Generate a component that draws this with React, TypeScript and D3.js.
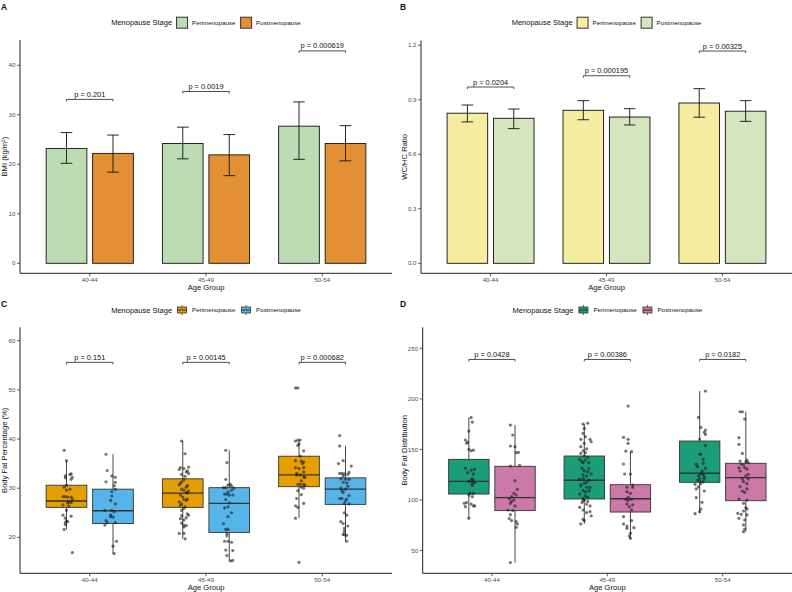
import React, { useEffect, useRef } from 'react';
import * as d3 from 'd3';

const ageGroups = ['40-44', '45-49', '50-54'];
const stages = ['Perimenopause', 'Postmenopause'];

// A: BMI, mean bar with lower / upper error limits
const bmiPeriMean = [23.2, 24.2, 27.7];
const bmiPostMean = [22.2, 21.9, 24.2];
const bmiPeriErr = [[20.2, 26.4], [21.1, 27.5], [21.0, 32.6]];
const bmiPostErr = [[18.4, 25.9], [17.7, 26.0], [20.7, 27.8]];
const bmiBracket = [33.1, 34.7, 42.9];
const bmiPValues = ['0.201', '0.0019', '0.000619'];
const bmiTicks = [0, 10, 20, 30, 40];

// B: waist / hip ratio
const whrPeriMean = [0.826, 0.842, 0.882];
const whrPostMean = [0.798, 0.805, 0.837];
const whrPeriErr = [[0.778, 0.871], [0.790, 0.895], [0.804, 0.961]];
const whrPostErr = [[0.741, 0.849], [0.761, 0.851], [0.781, 0.895]];
const whrBracket = [0.970, 1.032, 1.168];
const whrPValues = ['0.0204', '0.000195', '0.00325'];
const whrTicks = [0, 0.3, 0.6, 0.9, 1.2];

// C: body fat %, box stats [lower whisker, Q1, median, Q3, upper whisker]
const fatPeriBox = [[21.6, 26.1, 27.4, 30.6, 35.6], [19.7, 26.1, 29.0, 31.9, 39.6], [23.9, 30.3, 32.7, 36.5, 39.8]];
const fatPostBox = [[16.7, 22.8, 25.4, 29.8, 36.9], [15.2, 21.0, 26.9, 30.1, 37.7], [19.2, 26.7, 29.8, 32.1, 38.6]];
const fatBracket = [55.6, 55.6, 55.6];
const fatPValues = ['0.151', '0.00145', '0.000682'];
const fatTicks = [20, 30, 40, 50, 60];

// individual observations: [value, jitter]
const fatPeri40 = [[37.7,-0.02],[35.6,0.00],[32.5,-0.01],[32.1,-0.01],[32.8,0.03],[32.9,0.04],[32.2,0.05],[31.8,0.04],[30.6,0.00],[30.2,-0.02],[29.6,0.00],[29.8,0.03],[28.3,-0.03],[28.3,-0.01],[28.2,0.01],[28.2,0.04],[27.8,0.05],[27.2,0.02],[27.0,0.01],[27.1,0.04],[26.6,-0.03],[26.4,0.02],[25.5,0.00],[24.5,-0.03],[24.3,0.04],[23.9,-0.01],[23.3,0.00],[23.2,0.01],[23.0,-0.01],[22.6,-0.01],[21.6,-0.02],[16.9,0.05]];
const fatPost40 = [[36.9,-0.06],[33.6,-0.05],[32.5,-0.01],[32.2,0.02],[31.3,-0.06],[31.2,0.02],[30.5,0.01],[29.8,0.02],[29.3,-0.01],[28.4,-0.01],[27.5,-0.02],[26.8,0.02],[25.5,-0.07],[25.5,-0.01],[25.2,0.01],[24.5,-0.02],[24.2,-0.02],[24.1,0.00],[23.4,-0.06],[23.0,-0.05],[23.0,0.02],[22.5,-0.07],[19.2,0.03],[18.2,0.00],[16.7,0.01]];
const fatPeri45 = [[39.6,-0.01],[37.0,0.02],[34.2,-0.02],[34.0,0.01],[34.3,0.05],[33.3,0.03],[32.8,-0.01],[33.0,0.05],[31.3,-0.01],[31.7,0.01],[30.7,-0.03],[30.5,0.04],[29.6,0.01],[29.1,0.03],[29.0,0.04],[28.6,-0.02],[27.7,0.01],[27.2,-0.03],[27.8,0.04],[26.8,-0.01],[26.2,0.02],[25.5,-0.01],[24.5,0.05],[24.4,-0.01],[24.0,0.03],[23.5,0.01],[22.9,-0.01],[22.5,0.01],[22.4,0.03],[20.8,-0.03],[20.8,0.01],[19.7,0.02],[33.8,-0.03],[33.5,0.04],[32.4,0.02],[31.0,-0.02],[30.2,0.03],[29.8,-0.01],[29.4,0.05],[28.2,0.00],[27.5,0.03],[26.5,-0.02],[25.9,0.01],[24.8,0.04],[23.8,-0.02],[22.1,0.01]];
const fatPost45 = [[37.7,-0.03],[35.2,-0.02],[31.8,-0.03],[30.6,-0.01],[30.1,-0.05],[30.1,-0.03],[30.8,0.01],[30.0,0.04],[29.6,0.02],[28.8,-0.02],[28.8,-0.04],[28.6,0.00],[27.7,-0.03],[26.2,-0.01],[26.0,-0.04],[28.6,0.03],[24.2,-0.01],[22.8,-0.05],[21.6,-0.03],[21.6,-0.01],[20.8,-0.02],[19.2,-0.04],[19.2,-0.01],[19.0,0.02],[17.4,-0.03],[17.3,0.03],[16.3,-0.02],[15.2,0.01],[15.3,0.03],[30.4,0.02],[29.2,-0.01],[27.0,0.00],[25.0,0.02],[20.3,-0.02]];
const fatPeri50 = [[50.4,-0.03],[50.4,-0.01],[39.6,-0.03],[39.8,-0.01],[39.8,0.01],[39.0,0.00],[38.7,-0.01],[37.6,0.04],[36.5,0.01],[35.6,-0.03],[35.5,0.02],[35.3,0.04],[34.2,-0.03],[34.2,0.04],[34.0,0.00],[33.3,0.04],[32.7,-0.02],[32.7,0.01],[32.3,0.04],[32.2,0.05],[30.8,-0.01],[30.8,0.01],[30.8,0.04],[30.6,0.05],[30.2,0.02],[30.0,0.04],[27.9,-0.02],[26.9,0.04],[26.4,-0.03],[26.1,-0.01],[23.9,-0.03],[14.9,0.00],[31.5,0.02],[33.0,-0.02],[35.0,0.03],[29.5,-0.01],[28.7,0.02]];
const fatPost50 = [[40.7,-0.05],[38.6,-0.05],[35.6,-0.02],[35.0,-0.06],[34.5,0.05],[33.0,-0.05],[33.0,-0.03],[32.9,-0.01],[32.8,0.02],[31.9,-0.04],[31.8,0.00],[31.8,0.03],[31.2,-0.02],[31.1,0.01],[30.0,-0.04],[29.8,0.00],[29.1,-0.02],[27.9,-0.05],[27.9,-0.03],[27.8,0.01],[26.9,-0.01],[26.8,0.03],[25.0,-0.01],[24.5,0.01],[23.2,-0.04],[22.8,-0.02],[21.8,-0.01],[20.5,-0.01],[20.4,0.01],[20.6,-0.02],[19.2,0.01],[33.2,0.03],[32.5,-0.02],[30.4,0.02],[29.5,-0.03],[28.5,0.03],[27.4,0.00],[22.3,0.02],[21.2,-0.01]];

// D: body fat distribution
const distPeriBox = [[81.9, 105.9, 118.4, 140.2, 181.7], [76.3, 101.0, 119.6, 143.5, 175.1], [86.8, 117.5, 126.4, 158.3, 207.7]];
const distPostBox = [[38.1, 89.5, 102.3, 133.3, 174.1], [62.1, 88.1, 101.3, 115.1, 147.8], [68.7, 99.3, 122.1, 136.3, 187.3]];
const distBracket = [239, 239, 239];
const distPValues = ['0.0428', '0.00386', '0.0182'];
const distTicks = [50, 100, 150, 200, 250];

const distPeri40 = [[181.7,0.02],[177.1,0.03],[168.2,0.00],[159.3,-0.03],[157.3,-0.01],[156.0,-0.02],[150.1,0.00],[148.7,0.02],[149.4,0.04],[131.3,-0.03],[129.6,0.02],[130.3,0.05],[127.0,-0.01],[125.7,0.04],[121.1,0.03],[119.8,0.02],[119.1,0.04],[118.4,0.00],[116.5,0.03],[117.1,0.05],[114.5,0.03],[106.6,0.01],[104.9,0.00],[106.6,0.04],[103.3,0.03],[97.4,-0.02],[96.7,-0.04],[96.0,0.02],[94.1,0.05],[93.4,-0.03],[94.1,0.04],[81.9,0.00]];
const distPost40 = [[174.1,-0.04],[164.2,-0.02],[153.4,-0.04],[152.7,0.00],[146.8,0.01],[147.1,0.03],[133.6,-0.04],[134.3,0.04],[119.1,0.00],[110.6,0.02],[106.6,-0.01],[104.9,0.01],[103.3,-0.03],[101.3,-0.05],[100.0,-0.01],[98.7,-0.03],[96.7,-0.04],[94.1,0.00],[90.1,-0.06],[89.5,-0.02],[85.5,-0.04],[81.6,-0.05],[79.6,-0.03],[78.7,0.01],[76.3,0.02],[73.0,0.01],[38.1,-0.04]];
const distPeri45 = [[175.1,-0.01],[176.0,0.03],[170.8,0.00],[165.9,-0.01],[162.6,0.01],[160.0,-0.03],[160.0,0.05],[156.0,0.00],[157.6,0.06],[152.7,-0.03],[148.7,-0.01],[146.8,0.01],[146.1,-0.03],[143.5,0.00],[142.2,0.03],[140.2,-0.04],[139.5,0.01],[136.9,-0.01],[136.9,0.04],[131.3,-0.02],[131.3,0.04],[129.0,0.00],[125.0,-0.01],[125.7,0.06],[123.7,0.02],[120.4,-0.04],[119.8,0.04],[116.5,0.00],[113.8,-0.03],[112.5,0.02],[112.5,0.05],[109.2,-0.01],[109.2,0.04],[105.9,-0.04],[104.0,0.01],[101.6,-0.01],[100.0,0.00],[99.3,-0.01],[98.7,0.03],[92.8,-0.04],[94.1,0.05],[90.1,-0.01],[88.5,0.05],[87.5,0.02],[84.2,0.06],[80.9,-0.01],[76.3,-0.03],[79.6,0.00],[150.5,0.02],[138.0,-0.02],[128.0,0.03],[121.5,-0.01],[117.5,0.02],[115.0,-0.03],[108.0,0.01],[102.5,0.03],[97.5,-0.02],[96.0,0.02]];
const distPost45 = [[192.9,-0.02],[162.0,-0.06],[160.0,-0.02],[156.0,-0.02],[148.4,-0.04],[147.8,0.01],[135.6,-0.06],[125.7,-0.05],[125.7,0.00],[114.8,0.02],[112.5,-0.03],[112.5,0.02],[108.2,-0.03],[106.6,0.00],[102.6,-0.02],[100.7,-0.04],[100.7,0.01],[99.3,-0.02],[96.0,-0.03],[95.1,0.02],[93.4,-0.01],[90.1,0.01],[83.5,-0.06],[79.6,0.01],[76.3,-0.06],[74.3,-0.03],[72.6,0.03],[72.0,-0.03],[67.1,0.00],[64.4,-0.01],[62.1,0.00]];
const distPeri50 = [[207.7,0.05],[181.7,-0.01],[171.8,0.01],[169.2,0.05],[166.9,0.04],[164.9,0.05],[160.3,0.00],[153.7,0.05],[145.5,0.00],[145.2,0.01],[135.3,-0.03],[136.3,0.03],[131.3,0.05],[126.0,0.01],[125.4,0.03],[124.0,-0.01],[122.7,0.04],[121.4,0.00],[119.8,-0.02],[120.8,0.04],[118.8,0.00],[115.5,-0.04],[116.1,0.01],[110.9,-0.03],[108.9,0.04],[102.3,-0.03],[97.7,0.02],[91.1,0.01],[88.5,0.00],[86.5,-0.04],[128.5,0.02],[133.0,-0.02],[140.0,0.03],[118.0,0.03],[113.0,-0.01]];
const distPost50 = [[187.3,-0.05],[187.3,-0.03],[180.0,-0.01],[161.6,-0.06],[155.0,-0.06],[146.1,-0.03],[138.5,-0.05],[139.5,0.01],[137.9,0.00],[137.2,0.02],[135.6,-0.04],[134.6,-0.02],[131.9,-0.06],[131.9,-0.01],[130.6,0.01],[128.7,-0.05],[125.4,0.02],[124.0,0.00],[120.8,-0.03],[120.8,0.02],[118.1,-0.02],[116.1,0.01],[113.2,-0.05],[110.9,0.01],[108.9,-0.03],[107.6,-0.01],[101.0,-0.06],[100.0,0.01],[96.7,-0.02],[92.4,0.00],[91.1,0.01],[89.1,-0.02],[86.8,-0.07],[85.8,-0.04],[85.2,0.01],[81.9,-0.06],[80.2,-0.01],[75.3,-0.02],[71.3,-0.01],[68.7,-0.02]];

const FONT = "'Liberation Sans', Arial, Helvetica, sans-serif";
const DODGE = 0.2;
const HALF_W = 0.175;

interface PanelSpec {
    letter: string;
    letterX: number;
    letterY: number;
    left: number;
    right: number;
    top: number;
    bottom: number;
    yDomain: [number, number];
    yTicks: number[];
    tickFormat: (v: number) => string;
    yTitle: string;
    yTitleX: number;
    legendY: number;
    colors: [string, string];
    bracket: number[];
    pValues: string[];
    means?: number[][];
    errs?: number[][][];
    boxes?: number[][][];
    points?: number[][][][];
}

const panels: PanelSpec[] = [
    {
        letter: 'A', letterX: 1, letterY: 9.5,
        left: 20, right: 392, top: 40, bottom: 273.3,
        yDomain: [-2.02, 45.1], yTicks: bmiTicks, tickFormat: d3.format('d'),
        yTitle: 'BMI (kg/m²)', yTitleX: 6.5, legendY: 22.7,
        colors: ['#bcdcb4', '#e39035'],
        bracket: bmiBracket, pValues: bmiPValues,
        means: [bmiPeriMean, bmiPostMean], errs: [bmiPeriErr, bmiPostErr],
    },
    {
        letter: 'B', letterX: 400, letterY: 9.5,
        left: 421, right: 792, top: 40.5, bottom: 273.3,
        yDomain: [-0.055, 1.226], yTicks: whrTicks, tickFormat: d3.format('.1f'),
        yTitle: 'WC/HC Ratio', yTitleX: 406.5, legendY: 22.7,
        colors: ['#f5eea0', '#d5e6be'],
        bracket: whrBracket, pValues: whrPValues,
        means: [whrPeriMean, whrPostMean], errs: [whrPeriErr, whrPostErr],
    },
    {
        letter: 'C', letterX: 1, letterY: 306.8,
        left: 20, right: 392, top: 327.3, bottom: 573.3,
        yDomain: [12.68, 62.73], yTicks: fatTicks, tickFormat: d3.format('d'),
        yTitle: 'Body Fat Percentage (%)', yTitleX: 6.5, legendY: 310,
        colors: ['#e69f00', '#56b4e9'],
        bracket: fatBracket, pValues: fatPValues,
        boxes: [fatPeriBox, fatPostBox],
        points: [[fatPeri40, fatPeri45, fatPeri50], [fatPost40, fatPost45, fatPost50]],
    },
    {
        letter: 'D', letterX: 400, letterY: 306.8,
        left: 422.7, right: 792, top: 327.3, bottom: 573.3,
        yDomain: [27.5, 270.8], yTicks: distTicks, tickFormat: d3.format('d'),
        yTitle: 'Body Fat Distribution', yTitleX: 406.5, legendY: 310,
        colors: ['#1b9e77', '#cc79a7'],
        bracket: distBracket, pValues: distPValues,
        boxes: [distPeriBox, distPostBox],
        points: [[distPeri40, distPeri45, distPeri50], [distPost40, distPost45, distPost50]],
    },
];

function drawPanel(svg: d3.Selection<SVGSVGElement, unknown, null, undefined>, p: PanelSpec) {
    const g = svg.append('g');
    const x = d3.scaleLinear().domain([0.4, 3.6]).range([p.left, p.right]);
    const y = d3.scaleLinear().domain(p.yDomain).range([p.bottom, p.top]);
    const unit = x(1) - x(0);

    // Bars with error bars
    if (p.means && p.errs) {
        p.means.forEach((series, s) => {
            const off = s === 0 ? -DODGE : DODGE;
            series.forEach((m, i) => {
                const cx = x(i + 1 + off);
                g.append('rect')
                    .attr('x', cx - HALF_W * unit)
                    .attr('y', y(m))
                    .attr('width', 2 * HALF_W * unit)
                    .attr('height', y(0) - y(m))
                    .attr('fill', p.colors[s])
                    .attr('stroke', '#111')
                    .attr('stroke-width', 0.9);
            });
        });
        p.errs.forEach((series, s) => {
            const off = s === 0 ? -DODGE : DODGE;
            series.forEach(([lo, hi], i) => {
                const cx = x(i + 1 + off);
                const cap = 0.05 * unit;
                const path = d3.path();
                path.moveTo(cx, y(lo)); path.lineTo(cx, y(hi));
                path.moveTo(cx - cap, y(hi)); path.lineTo(cx + cap, y(hi));
                path.moveTo(cx - cap, y(lo)); path.lineTo(cx + cap, y(lo));
                g.append('path')
                    .attr('d', path.toString())
                    .attr('fill', 'none')
                    .attr('stroke', '#111')
                    .attr('stroke-width', 0.9);
            });
        });
    }

    // Boxplots with jittered points
    if (p.boxes && p.points) {
        p.boxes.forEach((series, s) => {
            const off = s === 0 ? -DODGE : DODGE;
            series.forEach(([lw, q1, med, q3, uw], i) => {
                const cx = x(i + 1 + off);
                g.append('line')
                    .attr('x1', cx).attr('x2', cx)
                    .attr('y1', y(q3)).attr('y2', y(uw))
                    .attr('stroke', '#333').attr('stroke-width', 0.9);
                g.append('line')
                    .attr('x1', cx).attr('x2', cx)
                    .attr('y1', y(q1)).attr('y2', y(lw))
                    .attr('stroke', '#333').attr('stroke-width', 0.9);
                g.append('rect')
                    .attr('x', cx - HALF_W * unit)
                    .attr('y', y(q3))
                    .attr('width', 2 * HALF_W * unit)
                    .attr('height', y(q1) - y(q3))
                    .attr('fill', p.colors[s])
                    .attr('stroke', '#333')
                    .attr('stroke-width', 0.9);
                g.append('line')
                    .attr('x1', cx - HALF_W * unit).attr('x2', cx + HALF_W * unit)
                    .attr('y1', y(med)).attr('y2', y(med))
                    .attr('stroke', '#333').attr('stroke-width', 1.4);
            });
        });
        p.points.forEach((groups, s) => {
            const off = s === 0 ? -DODGE : DODGE;
            groups.forEach((pts, i) => {
                g.append('g')
                    .selectAll('circle')
                    .data(pts)
                    .join('circle')
                    .attr('cx', d => x(i + 1 + off + d[1]))
                    .attr('cy', d => y(d[0]))
                    .attr('r', 1.6)
                    .attr('fill', '#1a1a1a')
                    .attr('fill-opacity', 0.6);
            });
        });
    }

    // Significance brackets
    p.bracket.forEach((b, i) => {
        const x1 = x(i + 1 - DODGE);
        const x2 = x(i + 1 + DODGE);
        const by = y(b);
        g.append('path')
            .attr('d', `M${x1},${by + 2}L${x1},${by}L${x2},${by}L${x2},${by + 2}`)
            .attr('fill', 'none')
            .attr('stroke', '#222')
            .attr('stroke-width', 0.8);
        g.append('text')
            .attr('x', x(i + 1))
            .attr('y', by - 2.4)
            .attr('text-anchor', 'middle')
            .style('font-size', '7.4px')
            .attr('fill', '#111')
            .text(`p = ${p.pValues[i]}`);
    });

    // Axes
    g.append('line')
        .attr('x1', p.left).attr('x2', p.left)
        .attr('y1', p.top).attr('y2', p.bottom)
        .attr('stroke', '#222').attr('stroke-width', 1);
    g.append('line')
        .attr('x1', p.left).attr('x2', p.right)
        .attr('y1', p.bottom).attr('y2', p.bottom)
        .attr('stroke', '#222').attr('stroke-width', 1);

    p.yTicks.forEach(t => {
        g.append('line')
            .attr('x1', p.left - 3).attr('x2', p.left)
            .attr('y1', y(t)).attr('y2', y(t))
            .attr('stroke', '#333').attr('stroke-width', 0.8);
        g.append('text')
            .attr('x', p.left - 4.5)
            .attr('y', y(t))
            .attr('dy', '0.35em')
            .attr('text-anchor', 'end')
            .style('font-size', '6.2px')
            .attr('fill', '#4d4d4d')
            .text(p.tickFormat(t));
    });

    ageGroups.forEach((a, i) => {
        g.append('line')
            .attr('x1', x(i + 1)).attr('x2', x(i + 1))
            .attr('y1', p.bottom).attr('y2', p.bottom + 3)
            .attr('stroke', '#333').attr('stroke-width', 0.8);
        g.append('text')
            .attr('x', x(i + 1))
            .attr('y', p.bottom + 8.6)
            .attr('text-anchor', 'middle')
            .style('font-size', '6.2px')
            .attr('fill', '#4d4d4d')
            .text(a);
    });

    g.append('text')
        .attr('x', (p.left + p.right) / 2)
        .attr('y', p.bottom + 16.3)
        .attr('text-anchor', 'middle')
        .style('font-size', '7.6px')
        .attr('fill', '#111')
        .text('Age Group');

    const midY = (p.top + p.bottom) / 2;
    g.append('text')
        .attr('transform', `translate(${p.yTitleX},${midY}) rotate(-90)`)
        .attr('text-anchor', 'middle')
        .style('font-size', '7.6px')
        .attr('fill', '#111')
        .text(p.yTitle);

    // Panel tag
    g.append('text')
        .attr('x', p.letterX)
        .attr('y', p.letterY)
        .style('font-size', '8.5px')
        .style('font-weight', 'bold')
        .attr('fill', '#111')
        .text(p.letter);

    // Legend
    const leg = g.append('g');
    let cursor = 0;
    const title = leg.append('text')
        .attr('x', 0).attr('y', 0).attr('dy', '0.35em')
        .style('font-size', '7.5px')
        .attr('fill', '#111')
        .text('Menopause Stage');
    cursor += (title.node() as SVGTextElement).getComputedTextLength() + 4;
    stages.forEach((st, s) => {
        if (p.boxes) {
            const kx = cursor;
            leg.append('line')
                .attr('x1', kx + 6).attr('x2', kx + 6)
                .attr('y1', -5).attr('y2', 5)
                .attr('stroke', '#333').attr('stroke-width', 0.8);
            leg.append('rect')
                .attr('x', kx + 1.5).attr('y', -3)
                .attr('width', 9).attr('height', 6)
                .attr('fill', p.colors[s])
                .attr('stroke', '#333').attr('stroke-width', 0.8);
            leg.append('line')
                .attr('x1', kx + 1.5).attr('x2', kx + 10.5)
                .attr('y1', 0).attr('y2', 0)
                .attr('stroke', '#333').attr('stroke-width', 1);
        } else {
            leg.append('rect')
                .attr('x', cursor + 0.5).attr('y', -5.5)
                .attr('width', 11).attr('height', 11)
                .attr('fill', p.colors[s])
                .attr('stroke', '#333').attr('stroke-width', 1);
        }
        cursor += 12 + 4;
        const label = leg.append('text')
            .attr('x', cursor).attr('y', 0).attr('dy', '0.35em')
            .style('font-size', '6.2px')
            .attr('fill', '#111')
            .text(st);
        cursor += (label.node() as SVGTextElement).getComputedTextLength() + (s === 0 ? 4.7 : 0);
    });
    const centerX = (p.left + p.right) / 2;
    leg.attr('transform', `translate(${centerX - cursor / 2},${p.legendY})`);
}

const App: React.FC = () => {
    const svgRef = useRef<SVGSVGElement>(null);

    useEffect(() => {
        if (!svgRef.current) return;
        const svg = d3.select(svgRef.current);
        svg.selectAll('*').remove();

        svg.append('rect')
            .attr('width', 792)
            .attr('height', 592)
            .attr('fill', '#fff');

        panels.forEach(p => drawPanel(svg, p));
    }, []);

    return (
        <div style={{ position: 'absolute', left: 0, top: 0 }}>
            <svg
                ref={svgRef}
                width={792}
                height={592}
                style={{ display: 'block', fontFamily: FONT }}
            />
        </div>
    );
};

export default App;
